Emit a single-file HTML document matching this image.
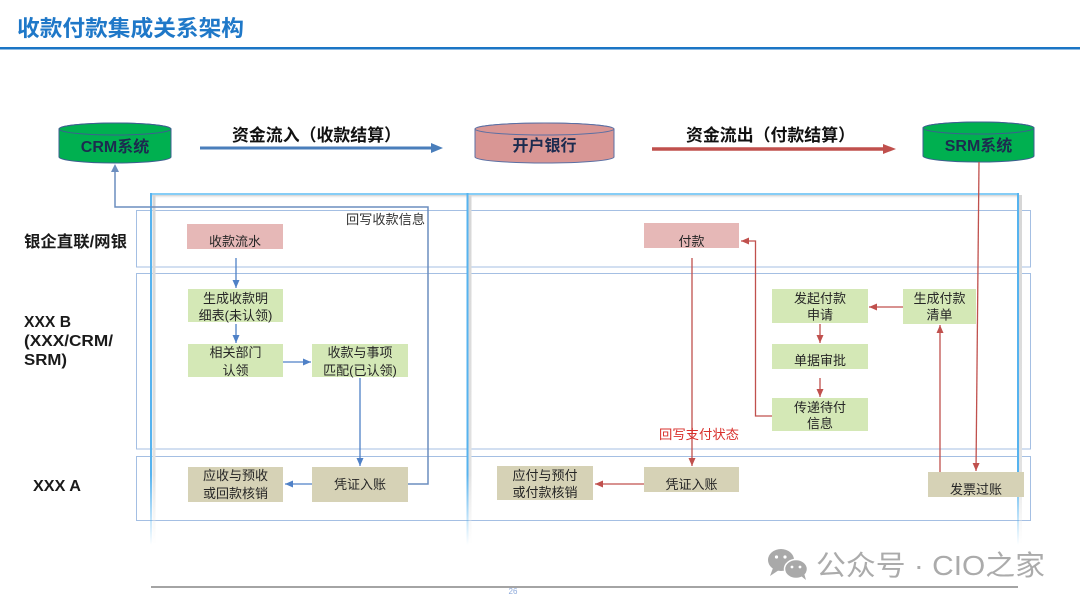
<!DOCTYPE html>
<html><head><meta charset="utf-8">
<style>
html,body{margin:0;padding:0;background:#fff;}
svg{display:block;}
text{font-family:"Liberation Sans","Noto Sans CJK SC",sans-serif;}
.cj{font-family:"Liberation Sans","Noto Sans CJK SC",sans-serif;font-size:13px;fill:#262626;text-anchor:middle;}
.lbl{font-family:"Liberation Sans","Noto Sans CJK SC",sans-serif;font-size:16px;font-weight:bold;fill:#1a1a1a;}
</style></head>
<body>
<svg width="1080" height="608" viewBox="0 0 1080 608" xmlns="http://www.w3.org/2000/svg">
<defs>
  <marker id="mb" markerUnits="userSpaceOnUse" markerWidth="9" markerHeight="8" refX="8" refY="3.5" orient="auto">
    <path d="M0,0 L8,3.5 L0,7 z" fill="#4f81c7"/>
  </marker>
  <marker id="mr" markerUnits="userSpaceOnUse" markerWidth="9" markerHeight="8" refX="8" refY="3.5" orient="auto">
    <path d="M0,0 L8,3.5 L0,7 z" fill="#c0504d"/>
  </marker>
  <linearGradient id="vfade" x1="0" y1="0" x2="0" y2="1">
    <stop offset="0" stop-color="#56b3ef"/>
    <stop offset="0.8" stop-color="#56b3ef"/>
    <stop offset="1" stop-color="#56b3ef" stop-opacity="0"/>
  </linearGradient>
  <linearGradient id="sfade" x1="0" y1="0" x2="0" y2="1">
    <stop offset="0" stop-color="#d6d6d6"/>
    <stop offset="0.8" stop-color="#e2e2e2"/>
    <stop offset="1" stop-color="#eeeeee" stop-opacity="0"/>
  </linearGradient>
  <linearGradient id="tshadow" x1="0" y1="0" x2="0" y2="1">
    <stop offset="0" stop-color="#cfcfcf"/>
    <stop offset="1" stop-color="#ffffff" stop-opacity="0"/>
  </linearGradient>
</defs>

<!-- Title -->
<text x="17" y="36" font-size="22" font-weight="bold" fill="#1f78c8" textLength="227" lengthAdjust="spacingAndGlyphs">收款付款集成关系架构</text>
<rect x="0" y="47" width="1080" height="2.5" fill="#1b75c5"/>

<!-- Cylinders -->
<path d="M59,129 L59,157 A56,6 0 0 0 171,157 L171,129 A56,6 0 0 0 59,129 Z" fill="#00b050" stroke="#3d5f8f" stroke-width="1"/>
<ellipse cx="115" cy="129" rx="56" ry="6" fill="#00b050" stroke="#3d5f8f" stroke-width="1"/>
<text x="115" y="152" font-size="16" font-weight="bold" fill="#1c2b4f" text-anchor="middle">CRM系统</text>

<path d="M475,129 L475,157 A69.5,6 0 0 0 614,157 L614,129 A69.5,6 0 0 0 475,129 Z" fill="#d99694" stroke="#5b6fa3" stroke-width="1"/>
<ellipse cx="544.5" cy="129" rx="69.5" ry="6" fill="#d99694" stroke="#5b6fa3" stroke-width="1"/>
<text x="544.5" y="151" font-size="16" font-weight="bold" fill="#1c2b4f" text-anchor="middle">开户银行</text>

<path d="M923,128 L923,156 A55.5,6 0 0 0 1034,156 L1034,128 A55.5,6 0 0 0 923,128 Z" fill="#00b050" stroke="#3d5f8f" stroke-width="1"/>
<ellipse cx="978.5" cy="128" rx="55.5" ry="6" fill="#00b050" stroke="#3d5f8f" stroke-width="1"/>
<text x="978.5" y="151" font-size="16" font-weight="bold" fill="#1c2b4f" text-anchor="middle">SRM系统</text>

<!-- Big arrows -->
<text x="232" y="141" font-size="17" font-weight="bold" fill="#111" textLength="169" lengthAdjust="spacingAndGlyphs">资金流入（收款结算）</text>
<line x1="200" y1="148" x2="432" y2="148" stroke="#4a7ebb" stroke-width="3"/>
<polygon points="431,143 443,148 431,153" fill="#4a7ebb"/>

<text x="686" y="141" font-size="17" font-weight="bold" fill="#111" textLength="169" lengthAdjust="spacingAndGlyphs">资金流出（付款结算）</text>
<line x1="652" y1="149" x2="884" y2="149" stroke="#c0504d" stroke-width="3.5"/>
<polygon points="883,144 896,149 883,154" fill="#c0504d"/>

<!-- Lanes -->
<rect x="136.5" y="210.5" width="894" height="56.5" fill="none" stroke="#a4bfe3" stroke-width="1"/>
<rect x="136.5" y="273.5" width="894" height="175.5" fill="none" stroke="#a4bfe3" stroke-width="1"/>
<rect x="136.5" y="456.5" width="894" height="64" fill="none" stroke="#a4bfe3" stroke-width="1"/>

<!-- Frames -->
<rect x="151" y="195" width="866" height="4" fill="url(#tshadow)"/>
<rect x="152.5" y="195" width="3" height="350" fill="url(#sfade)"/>
<rect x="468.5" y="195" width="3" height="350" fill="url(#sfade)"/>
<rect x="1019" y="195" width="3" height="350" fill="url(#sfade)"/>
<rect x="150" y="193" width="868" height="2" fill="#86cdf6"/>
<rect x="150" y="193" width="2" height="352" fill="url(#vfade)"/>
<rect x="466.5" y="193" width="2" height="352" fill="url(#vfade)"/>
<rect x="1017" y="193" width="2" height="352" fill="url(#vfade)"/>

<!-- Row labels -->
<text class="lbl" x="24" y="247" textLength="103" lengthAdjust="spacingAndGlyphs">银企直联/网银</text>
<text class="lbl" x="24" y="327" textLength="47" lengthAdjust="spacingAndGlyphs">XXX B</text>
<text class="lbl" x="24" y="346" textLength="89" lengthAdjust="spacingAndGlyphs">(XXX/CRM/</text>
<text class="lbl" x="24" y="365" textLength="43" lengthAdjust="spacingAndGlyphs">SRM)</text>
<text class="lbl" x="33" y="491" textLength="48" lengthAdjust="spacingAndGlyphs">XXX A</text>

<!-- CRM feedback connector -->
<polyline points="408,484 428,484 428,207 115,207 115,166" fill="none" stroke="#6c8ebf" stroke-width="1.5"/>
<polygon points="111,172 115,164 119,172" fill="#6c8ebf"/>
<text x="346" y="224" font-size="13" fill="#333" textLength="79" lengthAdjust="spacingAndGlyphs">回写收款信息</text>

<!-- Left boxes -->
<rect x="187" y="224" width="96" height="25" fill="#e6b8b7"/>
<text class="cj" x="235" y="246">收款流水</text>

<rect x="188" y="289" width="95" height="33" fill="#d4e8b6"/>
<text class="cj" x="235.5" y="303">生成收款明</text>
<text class="cj" x="235.5" y="320">细表(未认领)</text>

<rect x="188" y="344" width="95" height="33" fill="#d4e8b6"/>
<text class="cj" x="235.5" y="357">相关部门</text>
<text class="cj" x="235.5" y="375">认领</text>

<rect x="312" y="344" width="96" height="33" fill="#d4e8b6"/>
<text class="cj" x="360" y="357">收款与事项</text>
<text class="cj" x="360" y="375">匹配(已认领)</text>

<rect x="312" y="467" width="96" height="35" fill="#d6d2b6"/>
<text class="cj" x="360" y="489">凭证入账</text>

<rect x="188" y="467" width="95" height="35" fill="#d6d2b6"/>
<text class="cj" x="235.5" y="480">应收与预收</text>
<text class="cj" x="235.5" y="498">或回款核销</text>

<!-- Left arrows -->
<line x1="236" y1="258" x2="236" y2="288" stroke="#4f81c7" stroke-width="1.3" marker-end="url(#mb)"/>
<line x1="236" y1="324" x2="236" y2="343" stroke="#4f81c7" stroke-width="1.3" marker-end="url(#mb)"/>
<line x1="283" y1="362" x2="311" y2="362" stroke="#4f81c7" stroke-width="1.3" marker-end="url(#mb)"/>
<line x1="360" y1="378" x2="360" y2="466" stroke="#4f81c7" stroke-width="1.3" marker-end="url(#mb)"/>
<line x1="312" y1="484" x2="285" y2="484" stroke="#4f81c7" stroke-width="1.3" marker-end="url(#mb)"/>

<!-- Right boxes -->
<rect x="644" y="223" width="95" height="25" fill="#e6b8b7"/>
<text class="cj" x="691.5" y="246">付款</text>

<rect x="644" y="467" width="95" height="25" fill="#d6d2b6"/>
<text class="cj" x="691.5" y="489">凭证入账</text>

<rect x="497" y="466" width="96" height="34" fill="#d6d2b6"/>
<text class="cj" x="545" y="480">应付与预付</text>
<text class="cj" x="545" y="497">或付款核销</text>

<rect x="772" y="289" width="96" height="34" fill="#d4e8b6"/>
<text class="cj" x="820" y="303">发起付款</text>
<text class="cj" x="820" y="319.5">申请</text>

<rect x="903" y="289" width="73" height="35" fill="#d4e8b6"/>
<text class="cj" x="939.5" y="303">生成付款</text>
<text class="cj" x="939.5" y="319.5">清单</text>

<rect x="772" y="344" width="96" height="25" fill="#d4e8b6"/>
<text class="cj" x="820" y="365">单据审批</text>

<rect x="772" y="398" width="96" height="33" fill="#d4e8b6"/>
<text class="cj" x="820" y="412">传递待付</text>
<text class="cj" x="820" y="428">信息</text>

<rect x="928" y="472" width="96" height="25" fill="#d6d2b6"/>
<text class="cj" x="976" y="494">发票过账</text>

<!-- Right arrows -->
<line x1="692" y1="258" x2="692" y2="466" stroke="#c0504d" stroke-width="1.3" marker-end="url(#mr)"/>
<text x="659" y="439" font-size="13" fill="#d9302c" textLength="80" lengthAdjust="spacingAndGlyphs">回写支付状态</text>
<line x1="644" y1="484" x2="595" y2="484" stroke="#c0504d" stroke-width="1.3" marker-end="url(#mr)"/>
<polyline points="772,416 755.5,416 755.5,241 741,241" fill="none" stroke="#c0504d" stroke-width="1.3" marker-end="url(#mr)"/>
<line x1="903" y1="307" x2="869" y2="307" stroke="#c0504d" stroke-width="1.3" marker-end="url(#mr)"/>
<line x1="820" y1="324" x2="820" y2="343" stroke="#c0504d" stroke-width="1.3" marker-end="url(#mr)"/>
<line x1="820" y1="378" x2="820" y2="397" stroke="#c0504d" stroke-width="1.3" marker-end="url(#mr)"/>
<line x1="940" y1="472" x2="940" y2="325" stroke="#c0504d" stroke-width="1.3" marker-end="url(#mr)"/>
<line x1="979" y1="162" x2="976" y2="471" stroke="#c0504d" stroke-width="1.3" marker-end="url(#mr)"/>

<!-- Footer -->
<line x1="151" y1="587" x2="1018" y2="587" stroke="#6e6e6e" stroke-width="1.2"/>
<text x="513" y="594" font-size="8" fill="#8eaadb" text-anchor="middle">26</text>

<!-- Watermark -->
<g fill="#a9a9a9">
  <ellipse cx="781" cy="560" rx="13" ry="11"/>
  <polygon points="773,568 770,576 779,570"/>
  <ellipse cx="796" cy="569" rx="11.5" ry="9.5" stroke="#fff" stroke-width="1.5"/>
  <polygon points="801,576 806,580 804,573"/>
</g>
<circle cx="776.5" cy="557" r="1.6" fill="#fff"/>
<circle cx="785" cy="557" r="1.6" fill="#fff"/>
<circle cx="792" cy="567" r="1.4" fill="#fff"/>
<circle cx="800" cy="567" r="1.4" fill="#fff"/>
<text x="816" y="575" font-size="28" fill="#ababab" textLength="229" lengthAdjust="spacingAndGlyphs">公众号 · CIO之家</text>
</svg>
</body></html>
